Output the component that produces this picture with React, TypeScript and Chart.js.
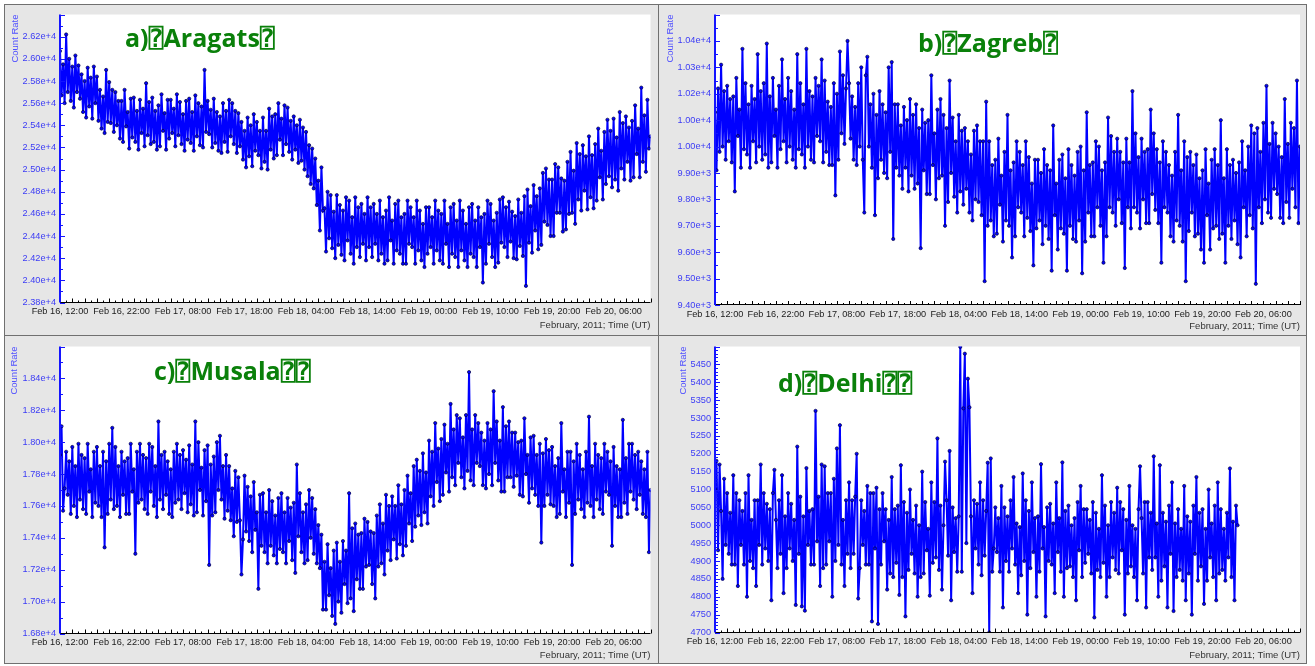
import React, { useEffect, useRef } from 'react';
import { Chart, registerables } from 'chart.js';
Chart.register(...registerables);

// ---------- shared axis data ----------
const sampleStepHours = 0.25; // one reading every 15 minutes, starting Feb 16, 12:00 UT
const xMaxHours = 96;
const xTickHours = [0, 10, 20, 30, 40, 50, 60, 70, 80, 90];
const xTickLabels = [
  'Feb 16, 12:00', 'Feb 16, 22:00', 'Feb 17, 08:00', 'Feb 17, 18:00', 'Feb 18, 04:00',
  'Feb 18, 14:00', 'Feb 19, 00:00', 'Feb 19, 10:00', 'Feb 19, 20:00', 'Feb 20, 06:00',
];
const xAxisTitle = 'February, 2011; Time (UT)';
const yAxisTitle = 'Count Rate';

// ---------- a) Aragats ----------
const aragatsTitle = 'a)\u2370Aragats\u2370';
const aragatsValues = [
  26070, 25670, 25950, 25600, 26220, 25700, 26000, 25620, 25930, 25560, 26030, 25700,
  25940, 25640, 25860, 25520, 25800, 25470, 25920, 25570, 25830, 25460, 25930, 25600,
  25840, 25440, 25720, 25370, 25660, 25330, 25900, 25430, 25790, 25420, 25720, 25340,
  25700, 25400, 25620, 25280, 25620, 25250, 25720, 25390, 25520, 25190, 25640, 25290,
  25650, 25250, 25530, 25180, 25630, 25330, 25550, 25210, 25780, 25310, 25610, 25230,
  25650, 25250, 25530, 25180, 25580, 25210, 25680, 25350, 25510, 25180, 25630, 25280,
  25630, 25330, 25550, 25210, 25680, 25310, 25610, 25230, 25500, 25170, 25620, 25270,
  25640, 25240, 25520, 25170, 25670, 25300, 25600, 25220, 25570, 25200, 25900, 25340,
  25620, 25320, 25540, 25200, 25640, 25240, 25520, 25170, 25480, 25150, 25600, 25250,
  25530, 25160, 25630, 25300, 25600, 25230, 25530, 25150, 25510, 25210, 25430, 25090,
  25350, 25020, 25470, 25120, 25400, 25030, 25500, 25170, 25430, 25130, 25350, 25010,
  25470, 25070, 25350, 25000, 25550, 25180, 25480, 25100, 25500, 25130, 25600, 25270,
  25460, 25130, 25580, 25230, 25560, 25160, 25440, 25090, 25480, 25180, 25400, 25060,
  25450, 25080, 25380, 25000, 25340, 24940, 25220, 24870, 25190, 24830, 25100, 24680,
  24900, 24450, 25020, 24630, 24650, 24260, 24800, 24380, 24770, 24290, 24620, 24200,
  24770, 24320, 24680, 24230, 24630, 24180, 24750, 24360, 24720, 24240, 24570, 24150,
  24750, 24300, 24660, 24210, 24690, 24330, 24600, 24180, 24750, 24300, 24660, 24210,
  24690, 24330, 24600, 24180, 24720, 24240, 24570, 24150, 24630, 24180, 24750, 24360,
  24540, 24150, 24690, 24270, 24720, 24240, 24570, 24150, 24600, 24150, 24720, 24330,
  24660, 24300, 24570, 24150, 24720, 24270, 24630, 24180, 24510, 24120, 24660, 24240,
  24660, 24300, 24570, 24150, 24720, 24270, 24630, 24180, 24600, 24150, 24720, 24330,
  24510, 24120, 24660, 24240, 24690, 24210, 24540, 24120, 24720, 24270, 24630, 24180,
  24510, 24120, 24660, 24240, 24690, 24210, 24540, 24120, 24660, 24300, 24570, 23980,
  24600, 24150, 24720, 24330, 24690, 24210, 24540, 24120, 24610, 24160, 24730, 24340,
  24750, 24300, 24660, 24210, 24710, 24350, 24620, 24200, 24580, 24190, 24730, 24310,
  24610, 24220, 24760, 23950, 24820, 24340, 24670, 24250, 24860, 24450, 24760, 24280,
  24830, 24320, 24970, 24530, 25010, 24500, 24910, 24400, 24910, 24400, 25050, 24610,
  25020, 24610, 24920, 24440, 24900, 24460, 25070, 24600, 25160, 24610, 24990, 24510,
  25240, 24730, 25140, 24630, 25220, 24810, 25120, 24640, 25300, 24750, 25130, 24650,
  25230, 24720, 25370, 24930, 25170, 24730, 25340, 24870, 25450, 24940, 25350, 24840,
  25460, 24910, 25290, 24810, 25520, 25010, 25420, 24910, 25480, 25070, 25380, 24900,
  25440, 24930, 25580, 25140, 25370, 24930, 25740, 25070, 25490, 24980, 25630, 25190,
  25300,
];
const aragatsTicks = [23800, 24000, 24200, 24400, 24600, 24800, 25000, 25200, 25400, 25600, 25800, 26000, 26200];
const aragatsTickLabels = ['2.38e+4', '2.40e+4', '2.42e+4', '2.44e+4', '2.46e+4', '2.48e+4', '2.50e+4', '2.52e+4', '2.54e+4', '2.56e+4', '2.58e+4', '2.60e+4', '2.62e+4'];

// ---------- b) Zagreb ----------
const zagrebTitle = 'b)\u2370Zagreb\u2370';
const zagrebValues = [
  10130, 9910, 10220, 9980, 10310, 10000, 10210, 9950, 10230, 10020, 10180, 9940,
  10190, 9830, 10260, 10040, 10140, 9920, 10370, 9990, 10240, 9970, 10160, 9920,
  10230, 10020, 10180, 9940, 10350, 10000, 10210, 9950, 10240, 9970, 10390, 9920,
  10190, 9940, 10260, 10040, 10140, 9920, 10230, 9990, 10330, 10020, 10180, 9940,
  10260, 10000, 10210, 9950, 10140, 9920, 10350, 9990, 10240, 9970, 10160, 9920,
  10370, 10000, 10210, 9950, 10190, 9940, 10260, 10040, 10230, 10020, 10330, 9940,
  10250, 9980, 10170, 9930, 10150, 9930, 10240, 9815, 10200, 9950, 10360, 10050,
  10270, 10010, 10220, 10400, 10240, 10030, 10190, 9950, 10150, 9930, 10240, 10000,
  10300, 9950, 9750, 10270, 10340, 10000, 10160, 9920, 10200, 9740, 10120, 9880,
  10210, 9950, 10160, 9900, 10130, 9880, 10300, 9980, 10320, 9650, 10160, 9920,
  10160, 9890, 10080, 9840, 10150, 9920, 10100, 9830, 10180, 9890, 10120, 9840,
  10160, 9860, 10070, 9615, 10140, 9910, 10090, 9820, 10100, 9820, 10270, 9930,
  10050, 9800, 10140, 9880, 10180, 9890, 10120, 9700, 10070, 9790, 10250, 9900,
  10110, 9810, 10020, 9750, 10120, 9830, 10060, 9780, 10070, 9840, 10020, 9750,
  9970, 9720, 10060, 9800, 10080, 9790, 10020, 9740, 10020, 9490, 10170, 9700,
  10020, 9720, 9930, 9660, 9950, 9670, 10030, 9780, 9890, 9640, 9980, 9720,
  10120, 9700, 9910, 9580, 9940, 9660, 10020, 9770, 9980, 9750, 9930, 9660,
  10020, 9730, 9960, 9680, 9860, 9550, 9950, 9690, 9950, 9720, 9900, 9630,
  9990, 9700, 9930, 9650, 9910, 9530, 10080, 9740, 9860, 9610, 9950, 9690,
  9970, 9670, 9880, 9530, 9990, 9700, 9930, 9650, 9890, 9640, 9980, 9720,
  10000, 9520, 9910, 9640, 10130, 9750, 9930, 9660, 9940, 9660, 10020, 9770,
  10000, 9700, 9910, 9560, 9940, 9660, 10110, 9770, 10040, 9750, 9980, 9700,
  10030, 9800, 9980, 9710, 9940, 9540, 10030, 9770, 9940, 9690, 10210, 9770,
  10050, 9750, 9960, 9690, 10030, 9800, 9980, 9710, 9990, 9710, 10140, 9820,
  10050, 9760, 9990, 9710, 9940, 9560, 10020, 9770, 9980, 9750, 9930, 9660,
  9890, 9640, 9980, 9720, 10120, 9700, 9910, 9640, 10020, 9490, 9960, 9680,
  9980, 9750, 9930, 9660, 9970, 9670, 9880, 9610, 9910, 9560, 9990, 9740,
  9860, 9610, 9950, 9690, 9990, 9700, 9930, 9650, 10100, 9670, 9880, 9560,
  9990, 9700, 9930, 9650, 9950, 9720, 9900, 9630, 9940, 9580, 10020, 9770,
  9910, 9660, 10000, 9740, 10080, 9690, 10050, 9480, 10070, 9770, 9980, 9710,
  10090, 9800, 10230, 9750, 10010, 9730, 10090, 9840, 10050, 9820, 10000, 9730,
  9960, 9710, 10180, 9790, 10010, 9730, 10090, 9840, 10070, 9770, 10250, 9710,
  10000,
];
const zagrebTicks = [9400, 9500, 9600, 9700, 9800, 9900, 10000, 10100, 10200, 10300, 10400];
const zagrebTickLabels = ['9.40e+3', '9.50e+3', '9.60e+3', '9.70e+3', '9.80e+3', '9.90e+3', '1.00e+4', '1.00e+4', '1.02e+4', '1.03e+4', '1.04e+4'];

// ---------- c) Musala ----------
const musalaTitle = 'c)\u2370Musala\u2370\u2370';
const musalaValues = [
  17920, 18100, 17570, 17710, 17940, 17670, 17880, 17550, 17970, 17600, 17850, 17530,
  17990, 17640, 17920, 17580, 17900, 17550, 17990, 17690, 17830, 17530, 17940, 17620,
  17970, 17600, 17850, 17530, 17940, 17340, 17880, 17550, 17990, 17640, 18090, 17580,
  17970, 17600, 17850, 17530, 17940, 17670, 17880, 17550, 17900, 17550, 17990, 17690,
  17830, 17300, 17940, 17620, 17990, 17640, 17920, 17580, 17900, 17550, 17990, 17690,
  17970, 17600, 17850, 17530, 18130, 17640, 17920, 17580, 17940, 17670, 17880, 17550,
  17830, 17530, 17940, 17620, 17990, 17640, 17920, 17580, 17950, 17680, 17890, 17560,
  17980, 17610, 17860, 17540, 18130, 17560, 18000, 17700, 17840, 17540, 17950, 17630,
  17980, 17230, 17860, 17540, 17910, 17560, 18000, 17700, 18040, 17640, 17850, 17520,
  17920, 17570, 17850, 17510, 17710, 17410, 17820, 17500, 17780, 17510, 17170, 17390,
  17790, 17440, 17720, 17380, 17660, 17310, 17750, 17450, 17560, 17080, 17670, 17350,
  17680, 17310, 17560, 17240, 17700, 17350, 17630, 17290, 17540, 17240, 17650, 17330,
  17680, 17310, 17560, 17240, 17650, 17380, 17590, 17260, 17620, 17180, 17860, 17410,
  17680, 17310, 17560, 17240, 17610, 17260, 17700, 17400, 17650, 17300, 17580, 17240,
  17480, 17210, 17420, 16950, 17250, 16950, 17360, 17040, 17210, 16910, 17320, 16860,
  17370, 17000, 17250, 16930, 17380, 17110, 17320, 16990, 17680, 17020, 17460, 16940,
  17490, 17140, 17420, 17080, 17430, 17080, 17520, 17220, 17500, 17230, 17440, 17110,
  17430, 17020, 17540, 17220, 17610, 17240, 17490, 17170, 17670, 17320, 17600, 17260,
  17660, 17390, 17600, 17270, 17730, 17360, 17610, 17290, 17700, 17350, 17790, 17490,
  17680, 17380, 17850, 17470, 17890, 17540, 17820, 17480, 17930, 17560, 17810, 17490,
  18010, 17660, 17940, 17600, 18120, 17750, 17960, 17630, 18020, 17670, 18110, 17810,
  17990, 17690, 18240, 17780, 18080, 17730, 18170, 17870, 18150, 17780, 18030, 17710,
  18170, 17820, 18440, 17760, 18080, 17730, 18170, 17870, 18120, 17850, 18060, 17730,
  18010, 17710, 18120, 17800, 18080, 17730, 18320, 17870, 18130, 17760, 18010, 17690,
  18220, 17690, 18100, 17780, 18130, 17780, 18060, 17720, 18060, 17790, 18000, 17670,
  18010, 17660, 18150, 17800, 17920, 17620, 18030, 17710, 18040, 17670, 17920, 17600,
  17990, 17370, 17930, 17600, 18020, 17670, 17950, 17610, 17970, 17600, 17850, 17530,
  17900, 17550, 18120, 17690, 17830, 17530, 17940, 17620, 17940, 17230, 17880, 17550,
  17990, 17640, 17920, 17580, 17830, 17530, 17940, 17620, 18160, 17600, 17850, 17530,
  17990, 17640, 17920, 17580, 17900, 17550, 17990, 17690, 17940, 17670, 17880, 17350,
  17970, 17600, 17850, 17530, 17830, 17530, 18140, 17620, 17900, 17550, 17990, 17690,
  17990, 17640, 17920, 17580, 17940, 17670, 17880, 17550, 17830, 17530, 17940, 17310,
  17700,
];
const musalaTicks = [16800, 17000, 17200, 17400, 17600, 17800, 18000, 18200, 18400];
const musalaTickLabels = ['1.68e+4', '1.70e+4', '1.72e+4', '1.74e+4', '1.76e+4', '1.78e+4', '1.80e+4', '1.82e+4', '1.84e+4'];

// ---------- d) Delhi ----------
const delhiTitle = 'd)\u2370Delhi\u2370\u2370';
const delhiValues = [
  5100, 5180, 4930, 5170, 5040, 4850, 5130, 4945, 5090, 4920, 5035, 4890,
  5140, 4890, 5090, 4830, 5070, 4945, 5040, 4890, 5090, 4800, 5140, 4900,
  5015, 4880, 5070, 4830, 5070, 4945, 5170, 4890, 5090, 4935, 5060, 4900,
  5045, 4790, 5090, 5155, 5015, 4880, 5070, 4920, 5140, 4810, 5025, 4880,
  5090, 4935, 5060, 4900, 5015, 4777, 5220, 4920, 5080, 4773, 5025, 4761,
  5160, 4945, 5040, 4890, 5045, 4890, 5320, 4955, 5080, 4830, 5170, 4880,
  5165, 4890, 5090, 4955, 5090, 4800, 5130, 4900, 5215, 4945, 5280, 4890,
  5015, 4830, 5070, 4920, 5120, 4880, 5070, 4920, 5080, 5200, 4795, 4880,
  5070, 4945, 5040, 4890, 5110, 4890, 5090, 4731, 5090, 4935, 5105, 4724,
  5045, 4890, 5090, 4955, 5045, 4820, 5015, 4865, 5135, 4855, 5045, 4895,
  5055, 4805, 5168, 4855, 5065, 4745, 5035, 4875, 5100, 4920, 5015, 4865,
  5055, 4800, 5000, 4855, 5150, 4865, 5065, 4930, 4990, 4803, 5120, 4895,
  5065, 4910, 5243, 4875, 5055, 4820, 5000, 5178, 5070, 4915, 5208, 4790,
  5050, 4925, 5020, 4870, 5025, 5499, 4870, 5327, 5480, 4950, 5410, 5330,
  5025, 4810, 5070, 4935, 5060, 4890, 5120, 4860, 5070, 4915, 5040, 5175,
  4700, 5187, 4870, 4935, 5050, 4925, 5020, 4870, 5110, 4770, 5050, 4900,
  5025, 4870, 5070, 4935, 5135, 4890, 5005, 4810, 4995, 4860, 5145, 4900,
  5070, 4750, 5040, 4880, 5120, 4925, 5020, 4800, 5025, 4870, 5171, 4935,
  4995, 4745, 5050, 4900, 5060, 4890, 5005, 4810, 5120, 4925, 5020, 4870,
  5176, 4800, 5040, 4880, 5055, 4885, 5000, 4855, 5020, 4790, 5065, 4930,
  5110, 4855, 5045, 4895, 5045, 4920, 5015, 4865, 5065, 4742, 5035, 4875,
  4990, 4855, 5140, 4895, 5055, 4800, 5000, 4855, 5065, 4910, 5035, 4875,
  5105, 4865, 5065, 4930, 5045, 4750, 5015, 4865, 5110, 4885, 5000, 4855,
  4990, 4790, 5045, 5165, 5020, 4865, 5065, 4770, 5065, 4910, 5035, 4875,
  5193, 4910, 5005, 4800, 5168, 4845, 5035, 4885, 5010, 4770, 5055, 4920,
  5120, 4760, 5005, 4855, 5045, 4875, 4990, 4845, 5110, 4790, 5025, 4865,
  5010, 4750, 5055, 4920, 5135, 4845, 5035, 4885, 5045, 4780, 4990, 4845,
  5100, 4910, 5005, 4855, 5055, 4790, 5120, 4865, 5045, 4875, 4990, 4845,
  5035, 4910, 5159, 4855, 5010, 4790, 5055, 5000,
];
const delhiTicks = [4700, 4750, 4800, 4850, 4900, 4950, 5000, 5050, 5100, 5150, 5200, 5250, 5300, 5350, 5400, 5450];
const delhiTickLabels = ['4700', '4750', '4800', '4850', '4900', '4950', '5000', '5050', '5100', '5150', '5200', '5250', '5300', '5350', '5400', '5450'];

// ---------- panel layout (styles/positions, not data) ----------
type Panel = {
  key: string; title: string; values: number[]; ticks: number[]; tickLabels: string[];
  yMin: number; yMax: number; majorStep: number; minorStep: number;
  left: number; top: number; width: number; height: number;
  plot: { l: number; t: number; r: number; b: number };
  titleAt: { x: number; y: number };
  xTitlePad: number; yTitlePad: number;
};

const panels: Panel[] = [
  {
    key: 'a', title: aragatsTitle, values: aragatsValues, ticks: aragatsTicks, tickLabels: aragatsTickLabels,
    yMin: 23800, yMax: 26400, majorStep: 200, minorStep: 100,
    left: 5, top: 5, width: 653, height: 330,
    plot: { l: 60, t: 12.3, r: 650.5, b: 302.5 }, titleAt: { x: 125, y: 47 },
    xTitlePad: 3.6, yTitlePad: 5,
  },
  {
    key: 'b', title: zagrebTitle, values: zagrebValues, ticks: zagrebTicks, tickLabels: zagrebTickLabels,
    yMin: 9400, yMax: 10500, majorStep: 100, minorStep: 50,
    left: 660, top: 5, width: 646, height: 330,
    plot: { l: 715, t: 12.3, r: 1300, b: 305 }, titleAt: { x: 918, y: 52 },
    xTitlePad: 2.6, yTitlePad: 5,
  },
  {
    key: 'c', title: musalaTitle, values: musalaValues, ticks: musalaTicks, tickLabels: musalaTickLabels,
    yMin: 16800, yMax: 18600, majorStep: 200, minorStep: 100,
    left: 5, top: 337, width: 653, height: 326,
    plot: { l: 60, t: 343.3, r: 650.5, b: 633.5 }, titleAt: { x: 154, y: 380 },
    xTitlePad: 2.3, yTitlePad: 4,
  },
  {
    key: 'd', title: delhiTitle, values: delhiValues, ticks: delhiTicks, tickLabels: delhiTickLabels,
    yMin: 4700, yMax: 5500, majorStep: 50, minorStep: 10,
    left: 660, top: 337, width: 646, height: 326,
    plot: { l: 715, t: 345.3, r: 1300, b: 632.5 }, titleAt: { x: 778, y: 392 },
    xTitlePad: 2.3, yTitlePad: 18,
  },
];

const FONT = '"Liberation Sans", Arial, sans-serif';

const decorPlugin = {
  id: 'decor',
  beforeDraw(chart: any) {
    const { ctx, chartArea: a } = chart;
    ctx.save();
    ctx.fillStyle = '#ffffff';
    ctx.fillRect(a.left, a.top, a.right - a.left, a.bottom - a.top);
    ctx.restore();
  },
  afterDatasetsDraw(chart: any, _args: any, opts: any) {
    const { ctx, chartArea: a, scales } = chart;
    const x = scales.x;
    const y = scales.y;
    ctx.save();
    // x axis: line and inward ticks every hour
    ctx.strokeStyle = '#000000';
    ctx.lineWidth = 1;
    ctx.beginPath();
    ctx.moveTo(a.left, Math.round(a.bottom) - 0.5);
    ctx.lineTo(a.right, Math.round(a.bottom) - 0.5);
    for (let h = 0; h <= xMaxHours; h += 1) {
      const px = Math.round(x.getPixelForValue(h)) + 0.5;
      const len = h % 2 === 0 ? 4 : 2;
      ctx.moveTo(px, a.bottom);
      ctx.lineTo(px, a.bottom - len);
    }
    ctx.stroke();
    // y axis: blue line and inward ticks
    ctx.strokeStyle = '#1414ff';
    ctx.lineWidth = 2;
    ctx.beginPath();
    ctx.moveTo(a.left, a.top);
    ctx.lineTo(a.left, a.bottom);
    ctx.stroke();
    ctx.lineWidth = 1;
    ctx.beginPath();
    const n = Math.round((opts.yMax - opts.yMin) / opts.minorStep);
    for (let i = 0; i <= n; i++) {
      const v = opts.yMin + i * opts.minorStep;
      const py = Math.round(y.getPixelForValue(v)) + 0.5;
      const major = Math.round(v - opts.yMin) % opts.majorStep === 0;
      const len = major ? 5 : 3;
      ctx.moveTo(a.left, py);
      ctx.lineTo(a.left + len, py);
    }
    ctx.stroke();
    // panel title
    ctx.fillStyle = '#0a800a';
    ctx.font = 'bold 25px "Open Sans", "DejaVu Sans", "DejaVu Sans Mono", sans-serif';
    ctx.textBaseline = 'alphabetic';
    ctx.textAlign = 'left';
    ctx.fillText(opts.title, opts.titleX, opts.titleY);
    ctx.restore();
  },
};

function PanelChart({ p }: { p: Panel }) {
  const ref = useRef<HTMLCanvasElement | null>(null);
  useEffect(() => {
    if (!ref.current) return;
    const padTop = p.plot.t - p.top;
    const yWidth = p.plot.l - p.left;
    const padRight = p.width - (p.plot.r - p.left);
    const xHeight = p.height - (p.plot.b - p.top);
    const chart = new Chart(ref.current, {
      type: 'line',
      data: {
        datasets: [
          {
            data: p.values.map((v, i) => ({ x: i * sampleStepHours, y: v })),
            borderColor: '#0000ff',
            borderWidth: 2,
            pointRadius: 1.6,
            pointBorderWidth: 0.7,
            pointBorderColor: '#000040',
            pointBackgroundColor: '#0000ff',
            tension: 0,
            fill: false,
          },
        ],
      },
      options: {
        responsive: false,
        animation: false,
        events: [],
        layout: { padding: { left: 0, top: padTop, right: padRight, bottom: 0 } },
        plugins: {
          legend: { display: false },
          tooltip: { enabled: false },
          decor: {
            yMin: p.yMin, yMax: p.yMax, majorStep: p.majorStep, minorStep: p.minorStep,
            title: p.title, titleX: p.titleAt.x - p.left, titleY: p.titleAt.y - p.top,
          },
        } as any,
        scales: {
          x: {
            type: 'linear',
            min: 0,
            max: xMaxHours,
            afterBuildTicks: (s: any) => { s.ticks = xTickHours.map((v) => ({ value: v })); },
            afterFit: (s: any) => { s.height = xHeight; },
            grid: { display: false, drawTicks: false },
            border: { display: false },
            ticks: {
              autoSkip: false, maxRotation: 0, minRotation: 0, padding: 3.5,
              color: '#1a1a1a', font: { family: FONT, size: 9.2 },
              callback: (_v: any, i: number) => xTickLabels[i],
            },
            title: {
              display: true, text: xAxisTitle, align: 'end', color: '#333333',
              font: { family: FONT, size: 9.5 }, padding: { top: 0, bottom: p.xTitlePad },
            },
          },
          y: {
            type: 'linear',
            min: p.yMin,
            max: p.yMax,
            afterBuildTicks: (s: any) => { s.ticks = p.ticks.map((v) => ({ value: v })); },
            afterFit: (s: any) => { s.width = yWidth; },
            grid: { display: false, drawTicks: false },
            border: { display: false },
            ticks: {
              autoSkip: false, padding: 4,
              color: '#3b3bf5', font: { family: FONT, size: 9.2 },
              callback: (_v: any, i: number) => p.tickLabels[i],
            },
            title: {
              display: true, text: yAxisTitle, align: 'end', color: '#5050ff',
              font: { family: FONT, size: 9.5 }, padding: { top: p.yTitlePad, bottom: 0 },
            },
          },
        },
      } as any,
      plugins: [decorPlugin],
    });
    return () => chart.destroy();
  }, [p]);
  return (
    <canvas
      ref={ref}
      width={p.width}
      height={p.height}
      style={{ position: 'absolute', left: p.left, top: p.top, width: p.width, height: p.height }}
    />
  );
}

export default function App() {
  return (
    <div style={{ position: 'absolute', left: 0, top: 0, width: 1315, height: 666, background: '#ffffff', overflow: 'hidden' }}>
      <div style={{ position: 'absolute', left: 4, top: 4, width: 1303, height: 660, background: '#e6e6e6', border: '1px solid #707070', boxSizing: 'border-box' }} />
      <div style={{ position: 'absolute', left: 658, top: 4, width: 1, height: 660, background: '#707070' }} />
      <div style={{ position: 'absolute', left: 4, top: 335, width: 1303, height: 1, background: '#707070' }} />
      {panels.map((p) => <PanelChart key={p.key} p={p} />)}
    </div>
  );
}
